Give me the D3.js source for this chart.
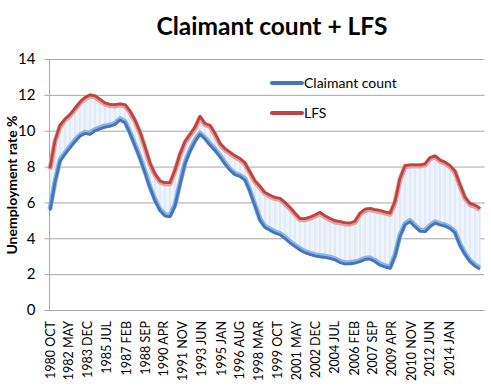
<!DOCTYPE html>
<html>
<head>
<meta charset="utf-8">
<script src="https://cdn.jsdelivr.net/npm/d3@7"></script>
<style>
  body { margin: 0; background: #fff; }
  text { font-family: Lato, "Open Sans", sans-serif; fill: #000; }
</style>
</head>
<body>
<div id="chart"></div>
<script>
// monthly series, read every 5 months starting 1980 OCT
const startMonth = "1980 OCT";
const stepMonths = 5;
const claimant = [5.55, 7.1, 8.3, 8.7, 9.05, 9.4, 9.7, 9.85, 9.8, 10.0,
  10.1, 10.2, 10.25, 10.35, 10.6, 10.45, 9.85, 9.15, 8.45, 7.65,
  6.8, 6.1, 5.55, 5.25, 5.2, 5.8, 7.0, 8.15, 8.85, 9.4,
  9.8, 9.55, 9.2, 8.9, 8.55, 8.15, 7.8, 7.55, 7.45, 7.25,
  6.6, 5.8, 5.0, 4.6, 4.45, 4.3, 4.2, 4.0, 3.75, 3.55,
  3.35, 3.2, 3.1, 3.02, 2.97, 2.93, 2.88, 2.8, 2.65, 2.57,
  2.58, 2.62, 2.7, 2.82, 2.85, 2.7, 2.5, 2.4, 2.32, 3.0,
  4.1, 4.75, 4.93, 4.65, 4.4, 4.37, 4.65, 4.85, 4.75, 4.68,
  4.55, 4.3, 3.6, 3.1, 2.7, 2.45, 2.28];
const lfs = [7.9, 9.45, 10.3, 10.65, 10.9, 11.25, 11.6, 11.85, 12.0, 11.95,
  11.75, 11.55, 11.47, 11.45, 11.5, 11.45, 11.1, 10.6, 9.95, 9.1,
  8.2, 7.6, 7.2, 7.1, 7.1, 7.8, 8.7, 9.4, 9.8, 10.2,
  10.8, 10.4, 10.3, 9.85, 9.3, 9.0, 8.8, 8.6, 8.45, 8.2,
  7.7, 7.2, 6.9, 6.55, 6.4, 6.28, 6.23, 6.0, 5.72, 5.4,
  5.1, 5.1, 5.18, 5.3, 5.45, 5.25, 5.1, 4.98, 4.93, 4.87,
  4.85, 4.95, 5.4, 5.62, 5.67, 5.6, 5.55, 5.47, 5.4, 6.05,
  7.35, 8.05, 8.1, 8.1, 8.1, 8.15, 8.5, 8.6, 8.37, 8.25,
  8.05, 7.75, 7.0, 6.3, 5.95, 5.85, 5.67];
const xLabels = ["1980 OCT", "1982 MAY", "1983 DEC", "1985 JUL", "1987 FEB", "1988 SEP",
  "1990 APR", "1991 NOV", "1993 JUN", "1995 JAN", "1996 AUG", "1998 MAR", "1999 OCT",
  "2001 MAY", "2002 DEC", "2004 JUL", "2006 FEB", "2007 SEP", "2009 APR", "2010 NOV",
  "2012 JUN", "2014 JAN"];
const yTicks = [0, 2, 4, 6, 8, 10, 12, 14];

const parseMonth = d3.timeParse("%Y %b");
const start = parseMonth(startMonth);
const data = claimant.map(function(c, i) {
    return { date: d3.timeMonth.offset(start, i * stepMonths), claimant: c, lfs: lfs[i] };
});

const width = 491, height = 390;
const plot = { left: 50, right: 480, top: 59, bottom: 310 };

const svg = d3.select("#chart").append("svg")
    .attr("width", width)
    .attr("height", height);

const x = d3.scaleTime()
    .domain(d3.extent(data, function(d) { return d.date }))
    .range([plot.left, plot.right]);
const y = d3.scaleLinear().domain([0, 14]).range([plot.bottom, plot.top]);

// title
svg.append("text")
    .attr("x", 272)
    .attr("y", 35)
    .attr("text-anchor", "middle")
    .style("font-size", "24.5px")
    .style("font-weight", "bold")
    .text("Claimant count + LFS");

// grid + y axis
const yAxis = svg.append("g")
    .attr("transform", "translate(" + (plot.left - 0.5) + ",0)")
    .call(d3.axisLeft(y).tickValues(yTicks).tickSize(-(plot.right - plot.left + 5)).tickPadding(14).tickSizeOuter(0));
yAxis.select(".domain").remove();
yAxis.selectAll(".tick line")
    .attr("x1", -5)
    .attr("stroke", "#a6a6a6");
yAxis.selectAll(".tick text")
    .style("font-size", "15px")
    .style("font-family", "Lato, sans-serif")
    .attr("fill", "#000");

svg.append("line")
    .attr("x1", plot.left - 0.5).attr("x2", plot.left - 0.5)
    .attr("y1", plot.top).attr("y2", plot.bottom)
    .attr("stroke", "#a6a6a6");

svg.append("text")
    .attr("transform", "translate(12," + 185 + ")rotate(-90)")
    .attr("text-anchor", "middle")
    .attr("dy", "0.35em")
    .style("font-size", "14px")
    .style("font-weight", "bold")
    .text("Unemployment rate %");

// x labels
svg.append("g").selectAll("text")
    .data(xLabels)
    .enter()
    .append("text")
    .attr("transform", function(d) {
        return "translate(" + x(parseMonth(d)) + "," + (plot.bottom + 11) + ")rotate(-90)";
    })
    .attr("text-anchor", "end")
    .attr("dy", "0.36em")
    .style("font-size", "12.5px")
    .text(function(d) { return d });

// band between the two series
const band = d3.area()
    .x(function(d) { return x(d.date) })
    .y0(function(d) { return y(d.claimant) })
    .y1(function(d) { return y(d.lfs) });
svg.append("path")
    .datum(data)
    .attr("fill", "#eef4fb")
    .attr("d", band);

svg.append("g").selectAll("line")
    .data(data)
    .enter()
    .append("line")
    .attr("x1", function(d) { return x(d.date) })
    .attr("x2", function(d) { return x(d.date) })
    .attr("y1", function(d) { return y(d.claimant) })
    .attr("y2", function(d) { return y(d.lfs) })
    .attr("stroke", "#d3e2f3")
    .attr("stroke-width", 1);

// lines
const lineClaimant = d3.line()
    .x(function(d) { return x(d.date) })
    .y(function(d) { return y(d.claimant) });
const lineLfs = d3.line()
    .x(function(d) { return x(d.date) })
    .y(function(d) { return y(d.lfs) });

function drawSeries(lineGen, light, dark, shift) {
    svg.append("path")
        .datum(data)
        .attr("fill", "none")
        .attr("stroke", light)
        .attr("stroke-width", 5)
        .attr("stroke-linejoin", "round")
        .attr("transform", "translate(0," + shift + ")")
        .attr("d", lineGen);
    svg.append("path")
        .datum(data)
        .attr("fill", "none")
        .attr("stroke", dark)
        .attr("stroke-width", 2.8)
        .attr("stroke-linejoin", "round")
        .attr("d", lineGen);
}
// bottom axis line
svg.append("line")
    .attr("x1", plot.left - 0.5).attr("x2", plot.right)
    .attr("y1", plot.bottom + 0.5).attr("y2", plot.bottom + 0.5)
    .attr("stroke", "#a6a6a6");

drawSeries(lineClaimant, "#8fb4e3", "#4275b9", -1.2);
drawSeries(lineLfs, "#e3a3a1", "#c0433f", 1.2);

// legend
const legend = [
    { name: "Claimant count", dark: "#4275b9", y: 83 },
    { name: "LFS", dark: "#c0433f", y: 113 }
];
const lg = svg.append("g").selectAll("g")
    .data(legend)
    .enter()
    .append("g");
lg.append("line")
    .attr("x1", 272).attr("x2", 302)
    .attr("y1", function(d) { return d.y }).attr("y2", function(d) { return d.y })
    .attr("stroke", function(d) { return d.dark })
    .attr("stroke-width", 4)
    .attr("stroke-linecap", "round");
lg.append("text")
    .attr("x", 304)
    .attr("y", function(d) { return d.y })
    .attr("dy", "0.35em")
    .style("font-size", "14px")
    .text(function(d) { return d.name });
</script>
</body>
</html>
